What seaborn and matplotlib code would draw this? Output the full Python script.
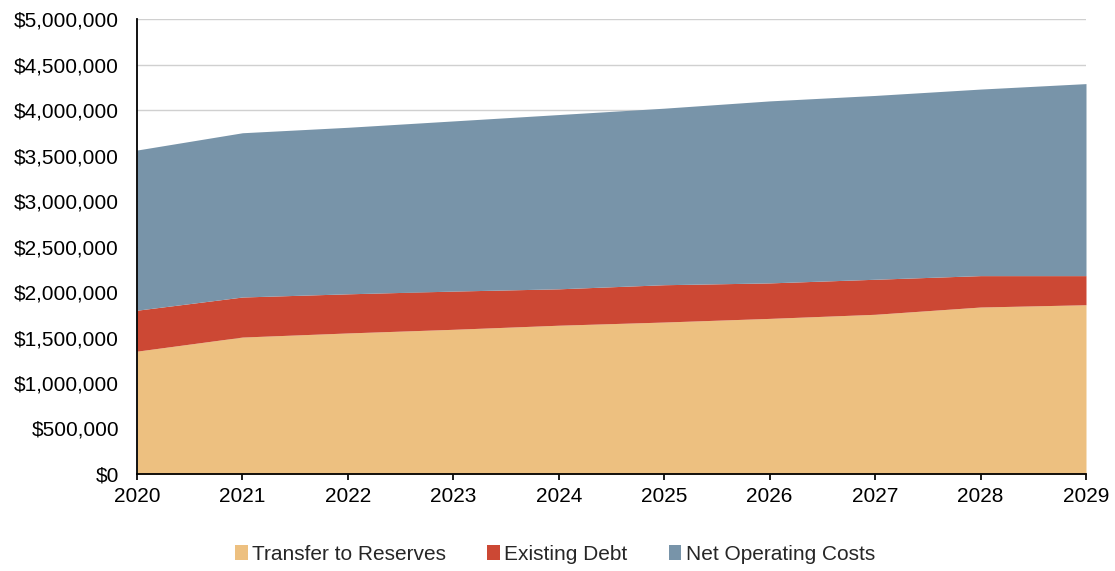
import matplotlib
matplotlib.use("Agg")
import matplotlib.pyplot as plt
import matplotlib.ticker as mticker
from matplotlib.patches import Patch
import seaborn as sns
import pandas as pd

# Data
years = [2020, 2021, 2022, 2023, 2024, 2025, 2026, 2027, 2028, 2029]
transfer_to_reserves = [1350000, 1505000, 1550000, 1590000, 1635000, 1670000, 1710000, 1755000, 1835000, 1860000]
existing_debt = [450000, 440000, 430000, 420000, 400000, 410000, 390000, 385000, 345000, 320000]
net_operating_costs = [1760000, 1805000, 1830000, 1870000, 1915000, 1940000, 2000000, 2020000, 2050000, 2110000]

series_names = ["Transfer to Reserves", "Existing Debt", "Net Operating Costs"]
colors = ["#EDC080", "#CC4834", "#7894A9"]

df = pd.DataFrame({
    "year": years,
    series_names[0]: transfer_to_reserves,
    series_names[1]: existing_debt,
    series_names[2]: net_operating_costs,
})

sns.set_theme(style="white")
plt.rcParams["font.family"] = ["Liberation Sans", "DejaVu Sans"]

fig = plt.figure(figsize=(11.15, 5.71), dpi=100)
ax = fig.add_axes([137 / 1115, 1 - 474 / 571, (1086 - 137) / 1115, (474 - 19) / 571])

ax.stackplot(df["year"], df[series_names[0]], df[series_names[1]], df[series_names[2]],
             colors=colors, linewidth=0, zorder=2)

ax.set_xlim(2020, 2029)
ax.set_ylim(0, 5000000)
ax.set_xticks(years)
ax.yaxis.set_major_locator(mticker.MultipleLocator(500000))
ax.yaxis.set_major_formatter(mticker.FuncFormatter(lambda v, p: f"${v:,.0f}"))
ax.grid(axis="y", color="#D0D0D0", linewidth=1, zorder=0)
ax.set_axisbelow(True)

for side in ["top", "right"]:
    ax.spines[side].set_visible(False)
for side in ["left", "bottom"]:
    ax.spines[side].set_color("black")
    ax.spines[side].set_linewidth(1.3)

ax.tick_params(axis="both", labelsize=15, colors="black", length=0)
ax.tick_params(axis="y", pad=13)
ax.tick_params(axis="x", length=4, direction="out", bottom=True, color="black", pad=5.5)
ax.set_xlabel("")
ax.set_ylabel("")

handles = [Patch(facecolor=c, edgecolor="none") for c in colors]
fig.legend(handles, series_names, loc="center", bbox_to_anchor=(555 / 1115, 1 - 554 / 571),
           ncol=3, frameon=False, fontsize=15, handlelength=0.6, handleheight=0.7,
           handletextpad=0.2, columnspacing=2.0)

fig.savefig("out.png", dpi=100)
